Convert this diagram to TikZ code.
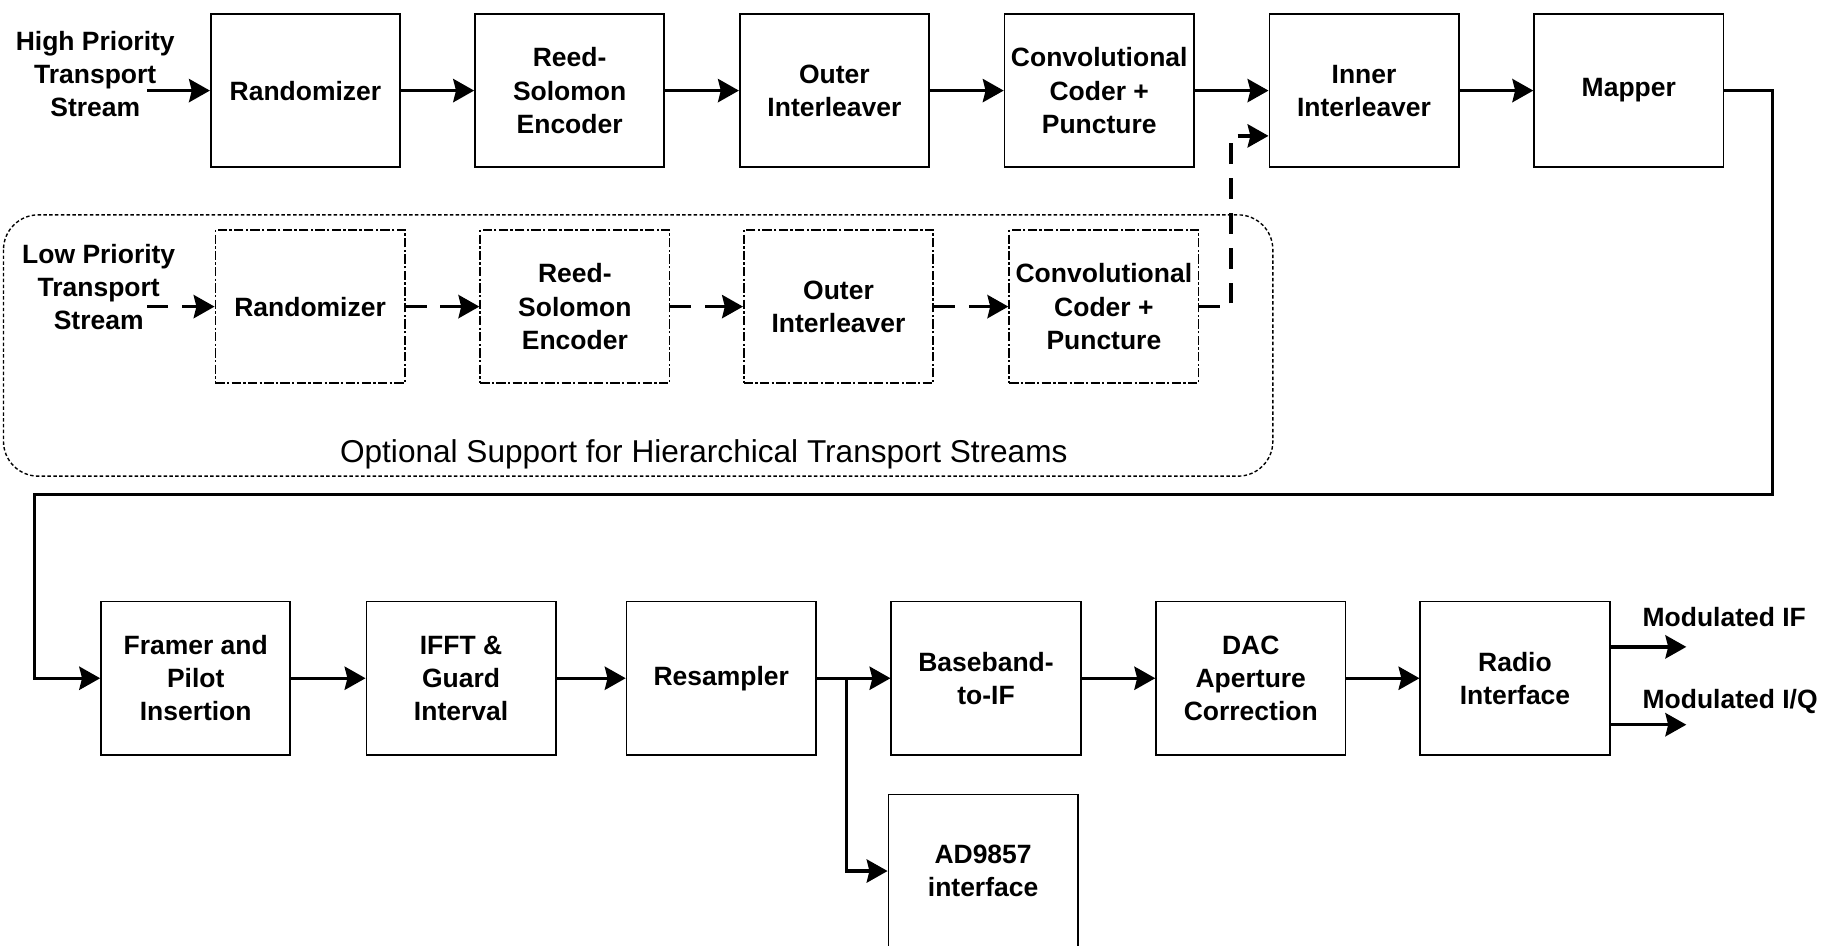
\documentclass[tikz,border=0pt]{standalone}
\usepackage{fontspec}
\setmainfont{Liberation Sans}
\usetikzlibrary{arrows.meta}
\newcommand\boxfont{\fontsize{11.4}{14.25}\selectfont\bfseries}
\newcommand\optfont{\fontsize{13.6}{16}\selectfont}
\begin{document}
\begin{tikzpicture}[x=0.5pt,y=-0.5pt,
  box/.style={draw, line width=0.75pt, minimum width=81.5pt, minimum height=66pt, align=center, inner sep=0pt, font=\boxfont},
  dbox/.style={box, dash pattern=on 4pt off 1pt on 1pt off 1pt},
  lbl/.style={align=center, inner sep=0pt, font=\boxfont},
  conn/.style={line width=1.4pt, -{Stealth[length=9pt,width=10pt,inset=1.2pt]}},
  dconn/.style={conn, dash pattern=on 9pt off 6pt},
  group/.style={line width=0.6pt, dash pattern=on 1.5pt off 1pt, rounded corners=15pt}
]
\useasboundingbox (0,0) rectangle (1568,814);
% group frame
\draw[group] (3,185) rectangle (1096,410);
\node[font=\optfont, inner sep=0pt] (opt) at (606,391) {Optional Support for Hierarchical Transport Streams};
% top row
\node[box] (R1) at (263,78) {Randomizer};
\node[box] (RS1) at (490.5,78) {Reed-\\Solomon\\Encoder};
\node[box] (OI1) at (718.5,78) {Outer\\Interleaver};
\node[box] (CC1) at (946.5,78) {Convolutional\\Coder +\\Puncture};
\node[box] (II) at (1174.5,78) {Inner\\Interleaver};
\node[box] (M) at (1402.5,78) {Mapper};
\node[lbl] (hp) at (82,64) {High Priority\\Transport\\Stream};
\coordinate (hpin) at (127,78);
% low priority row
\node[dbox] (R2) at (267,264) {Randomizer};
\node[dbox] (RS2) at (495,264) {Reed-\\Solomon\\Encoder};
\node[dbox] (OI2) at (722,264) {Outer\\Interleaver};
\node[dbox] (CC2) at (950.5,264) {Convolutional\\Coder +\\Puncture};
\node[lbl] (lp) at (85,247) {Low Priority\\Transport\\Stream};
\coordinate (lpin) at (127,264);
\coordinate (turn) at (1060,264);
% bottom row
\node[box] (F) at (168.5,584) {Framer and\\Pilot\\Insertion};
\node[box] (IFFT) at (397,584) {IFFT \&\\Guard\\Interval};
\node[box] (RES) at (621,584) {Resampler};
\node[box] (BB) at (849,584) {Baseband-\\to-IF};
\node[box] (DAC) at (1077,584) {DAC\\Aperture\\Correction};
\node[box] (RAD) at (1304.5,584) {Radio\\Interface};
\node[box] (AD) at (846.5,750) {AD9857\\interface};
\coordinate (o1) at (1452,557);
\coordinate (o2) at (1452,624);
\node[lbl, anchor=west] (mif) at (1414,531) {Modulated IF};
\node[lbl, anchor=west] (miq) at (1414,604) {Modulated I/Q};
\coordinate (c1) at (1526,426);
\coordinate (c2) at (30,426);
\coordinate (br) at (729,584);
% connectors top
\draw[conn] (hpin) -- (R1.west);
\draw[conn] (R1) -- (RS1);
\draw[conn] (RS1) -- (OI1);
\draw[conn] (OI1) -- (CC1);
\draw[conn] (CC1) -- (II);
\draw[conn] (II) -- (M);
% connectors low priority
\draw[dconn] (lpin) -- (R2.west);
\draw[dconn] (R2) -- (RS2);
\draw[dconn] (RS2) -- (OI2);
\draw[dconn] (OI2) -- (CC2);
\draw[dconn] (CC2.east) -- (turn) |- ([yshift=-19.5pt]II.west);
% long return
\draw[conn] (M.east) -| (c1) -- (c2) |- (F.west);
% bottom
\draw[conn] (F) -- (IFFT);
\draw[conn] (IFFT) -- (RES);
\draw[conn] (RES) -- (BB);
\draw[conn] (BB) -- (DAC);
\draw[conn] (DAC) -- (RAD);
\draw[conn] (br) |- (AD.west);
\draw[conn] (RAD.east |- o1) -- (o1);
\draw[conn] (RAD.east |- o2) -- (o2);
\end{tikzpicture}
\end{document}
